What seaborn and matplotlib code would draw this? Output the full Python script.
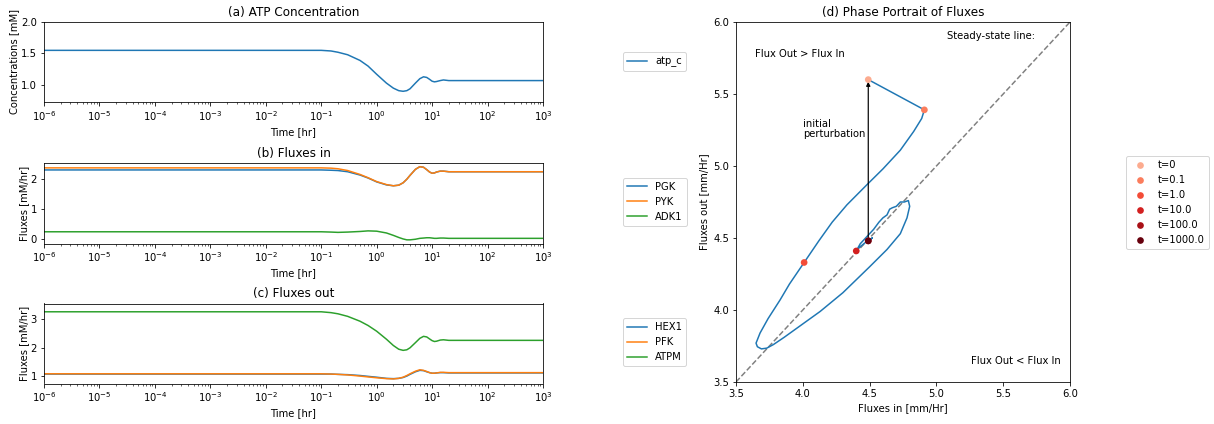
import numpy as np
import pandas as pd
import matplotlib
matplotlib.use("Agg")
import matplotlib.pyplot as plt
import matplotlib.ticker as mticker
import seaborn as sns

# ---------------- data ----------------
time_hr = [1e-6, 0.1, 0.15, 0.2, 0.3, 0.5, 0.7, 1.0, 1.5, 2.0, 2.5, 3.0, 3.5, 4.0,
           5.0, 6.0, 7.0, 8.0, 9.0, 10.0, 11.0, 12.0, 14.0, 16.0, 20.0, 30.0, 1000.0]

atp_c = [1.55, 1.55, 1.54, 1.52, 1.48, 1.39, 1.30, 1.17, 1.03, 0.95, 0.91, 0.90, 0.91, 0.94,
         1.03, 1.10, 1.13, 1.12, 1.09, 1.06, 1.05, 1.055, 1.07, 1.08, 1.07, 1.07, 1.07]

PGK = [2.31, 2.31, 2.30, 2.29, 2.25, 2.14, 2.04, 1.91, 1.81, 1.78, 1.80, 1.88, 2.00, 2.13,
       2.33, 2.42, 2.40, 2.32, 2.24, 2.20, 2.21, 2.24, 2.27, 2.27, 2.25, 2.25, 2.25]
PYK = [2.38, 2.38, 2.37, 2.35, 2.29, 2.16, 2.05, 1.92, 1.82, 1.78, 1.80, 1.88, 2.00, 2.13,
       2.33, 2.42, 2.40, 2.32, 2.24, 2.20, 2.21, 2.24, 2.27, 2.27, 2.25, 2.25, 2.25]
ADK1 = [0.24, 0.24, 0.23, 0.22, 0.23, 0.25, 0.27, 0.26, 0.20, 0.12, 0.05, 0.00, -0.03, -0.03,
        -0.01, 0.02, 0.03, 0.04, 0.04, 0.03, 0.02, 0.02, 0.03, 0.03, 0.02, 0.02, 0.02]

HEX1 = [1.08, 1.08, 1.08, 1.07, 1.06, 1.03, 1.00, 0.97, 0.93, 0.92, 0.93, 0.96, 1.01, 1.07,
        1.16, 1.21, 1.20, 1.16, 1.13, 1.11, 1.11, 1.12, 1.13, 1.13, 1.12, 1.12, 1.12]
PFK = [1.09, 1.09, 1.08, 1.07, 1.05, 1.01, 0.98, 0.95, 0.92, 0.91, 0.93, 0.97, 1.03, 1.09,
       1.18, 1.23, 1.21, 1.17, 1.13, 1.11, 1.11, 1.12, 1.14, 1.14, 1.13, 1.13, 1.13]
ATPM = [3.26, 3.26, 3.23, 3.19, 3.10, 2.93, 2.78, 2.58, 2.30, 2.08, 1.95, 1.91, 1.93, 2.00,
        2.18, 2.33, 2.40, 2.38, 2.31, 2.25, 2.22, 2.23, 2.27, 2.28, 2.26, 2.26, 2.26]

decade_ticks = [1e-6, 1e-5, 1e-4, 1e-3, 1e-2, 1e-1, 1e0, 1e1, 1e2, 1e3]

# phase portrait trajectory
flux_in = [4.49, 4.91, 4.89, 4.83, 4.73, 4.60, 4.48, 4.33, 4.22, 4.12, 4.01, 3.90, 3.83, 3.74,
           3.68, 3.65, 3.66, 3.69, 3.73, 3.78, 3.86, 3.95, 4.13, 4.30, 4.50, 4.63, 4.73, 4.78,
           4.80, 4.79, 4.76, 4.73, 4.70, 4.67, 4.65, 4.63, 4.60, 4.57, 4.53, 4.50, 4.48, 4.45,
           4.43, 4.40, 4.43, 4.47, 4.49, 4.52, 4.49]
flux_out = [5.60, 5.39, 5.33, 5.24, 5.11, 4.98, 4.87, 4.73, 4.61, 4.48, 4.33, 4.18, 4.07, 3.94,
            3.84, 3.77, 3.745, 3.73, 3.735, 3.76, 3.81, 3.87, 3.99, 4.12, 4.30, 4.42, 4.53, 4.64,
            4.72, 4.76, 4.75, 4.75, 4.72, 4.71, 4.70, 4.66, 4.64, 4.61, 4.56, 4.53, 4.51, 4.48,
            4.46, 4.41, 4.44, 4.47, 4.48, 4.50, 4.48]

time_labels = ["t=0", "t=0.1", "t=1.0", "t=10.0", "t=100.0", "t=1000.0"]
point_in = [4.49, 4.91, 4.01, 4.40, 4.49, 4.49]
point_out = [5.60, 5.39, 4.33, 4.41, 4.48, 4.48]

# ---------------- figure ----------------
plt.rcParams["font.family"] = ["DejaVu Sans"]
plt.rcParams["font.size"] = 10

W, H = 1214, 424
fig = plt.figure(figsize=(W / 72, H / 72), dpi=72)


def ax_px(left, top, right, bottom):
    return fig.add_axes([left / W, 1 - bottom / H, (right - left) / W, (bottom - top) / H])


ax_a = ax_px(44, 22, 543, 102)
ax_b = ax_px(44, 163, 543, 243.5)
ax_c = ax_px(44, 303.5, 543, 383.5)
ax_d = ax_px(736, 22, 1070, 382)

palette = sns.color_palette("tab10")


def long_df(series):
    rows = []
    for name, vals in series.items():
        for t, v in zip(time_hr, vals):
            rows.append((t, v, name))
    return pd.DataFrame(rows, columns=["time", "value", "id"])


def panel(ax, series, title, ylabel, legend_top, ylim=None):
    df = long_df(series)
    sns.lineplot(data=df, x="time", y="value", hue="id", hue_order=list(series.keys()),
                 palette=palette[:len(series)], ax=ax, linewidth=1.5, estimator=None)
    ax.set_xscale("log")
    ax.set_xlim(1e-6, 1e3)
    ax.set_xticks(decade_ticks)
    ax.xaxis.set_minor_locator(mticker.LogLocator(base=10, subs=np.arange(2, 10), numticks=20))
    ax.xaxis.set_minor_formatter(mticker.NullFormatter())
    if ylim is not None:
        ax.set_ylim(*ylim)
    ax.set_title(title, fontsize=12)
    ax.set_xlabel("Time [hr]")
    ax.set_ylabel(ylabel, labelpad=2)
    h, l = ax.get_legend_handles_labels()
    ax.legend(h, l, loc="upper left", bbox_to_anchor=(623 / W, 1 - legend_top / H),
              bbox_transform=fig.transFigure, borderaxespad=0, frameon=True)


panel(ax_a, {"atp_c": atp_c}, "(a) ATP Concentration", "Concentrations [mM]", 52, (0.73, 2.0))
panel(ax_b, {"PGK": PGK, "PYK": PYK, "ADK1": ADK1}, "(b) Fluxes in", "Fluxes [mM/hr]", 178)
panel(ax_c, {"HEX1": HEX1, "PFK": PFK, "ATPM": ATPM}, "(c) Fluxes out", "Fluxes [mM/hr]", 318,
      (0.75, 3.55))

# ---------------- phase portrait ----------------
ax = ax_d
ax.plot([3.5, 6.0], [3.5, 6.0], ls="--", color="grey", lw=1.5, zorder=1)
traj = pd.DataFrame({"fin": flux_in, "fout": flux_out, "order": range(len(flux_in))})
sns.lineplot(data=traj, x="fin", y="fout", sort=False, estimator=None, ax=ax,
             color=palette[0], linewidth=1.5, zorder=2)
ax.annotate("", xy=(4.49, 5.585), xytext=(4.49, 4.48),
            arrowprops=dict(arrowstyle="-|>", color="black", lw=1.2, mutation_scale=8,
                            shrinkA=0, shrinkB=0), zorder=3)
reds = sns.color_palette("Reds", as_cmap=True)
pt_colors = [reds(v) for v in np.linspace(0.3, 1.0, len(time_labels))]
pts = pd.DataFrame({"fin": point_in, "fout": point_out, "t": time_labels})
sns.scatterplot(data=pts, x="fin", y="fout", hue="t", hue_order=time_labels,
                palette=pt_colors, s=45, edgecolor="none", ax=ax, zorder=4)
ax.set_xlim(3.5, 6.0)
ax.set_ylim(3.5, 6.0)
ax.set_xticks([3.5, 4.0, 4.5, 5.0, 5.5, 6.0])
ax.set_yticks([3.5, 4.0, 4.5, 5.0, 5.5, 6.0])
ax.set_title("(d) Phase Portrait of Fluxes", fontsize=12)
ax.set_xlabel("Fluxes in [mm/Hr]")
ax.set_ylabel("Fluxes out [mm/Hr]")
ax.text(5.08, 5.90, "Steady-state line:", va="center", ha="left")
ax.text(3.64, 5.775, "Flux Out > Flux In", va="center", ha="left")
ax.text(5.26, 3.645, "Flux Out < Flux In", va="center", ha="left")
ax.text(4.0, 5.255, "initial\nperturbation", va="center", ha="left", linespacing=1.0)
h, l = ax.get_legend_handles_labels()
ax.legend(h, l, loc="upper left", bbox_to_anchor=(1126 / W, 1 - 156 / H),
          bbox_transform=fig.transFigure, borderaxespad=0, frameon=True)

fig.savefig("out.png", dpi=72)
